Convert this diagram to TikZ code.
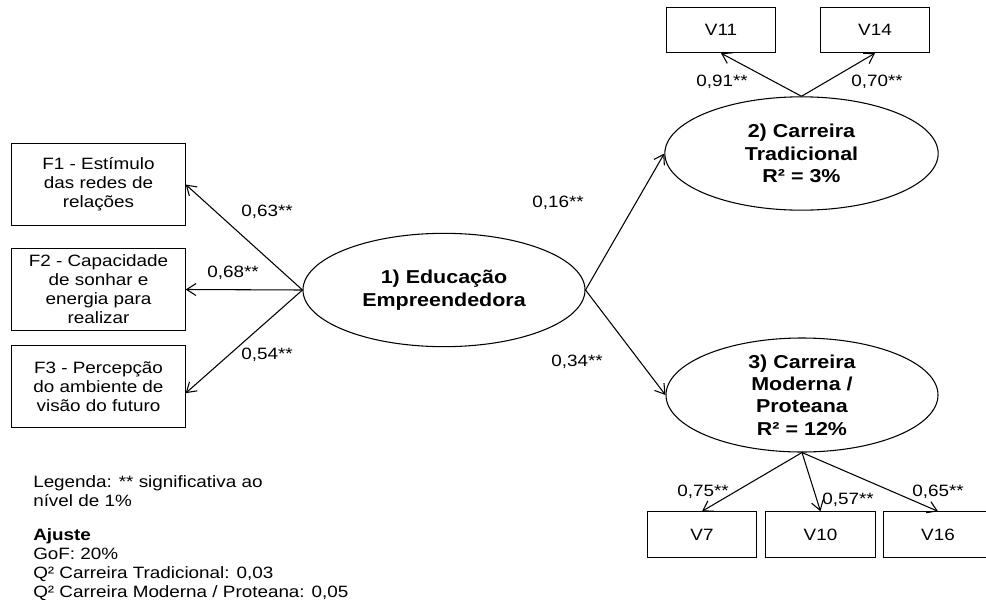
\documentclass[tikz,border=0pt]{standalone}
\usepackage{fontspec}
\setmainfont{Liberation Sans}[FakeStretch=1.15]
\usetikzlibrary{shapes.geometric,arrows.meta,positioning}

\newcommand{\plainfont}{\fontsize{12.3}{14.3}\selectfont}
\newcommand{\latfont}{\fontsize{14}{16.8}\selectfont\bfseries}

\begin{document}
\begin{tikzpicture}[
    x=0.75pt, y=-0.75pt,
    factor/.style={rectangle, draw=black, line width=0.8pt, minimum width=130pt, minimum height=62pt, inner sep=0pt, align=center, font=\plainfont},
    item/.style={rectangle, draw=black, line width=0.8pt, minimum width=82pt, minimum height=34pt, inner sep=0pt, font=\plainfont},
    latent/.style={ellipse, draw=black, line width=0.8pt, inner sep=0pt},
    lattext/.style={align=center, font=\latfont},
    coef/.style={font=\plainfont, inner sep=1pt},
    arrow/.style={-{Straight Barb[length=7pt,width=9pt]}, line width=0.8pt}
    ]
    \useasboundingbox (0,0) rectangle (986,600);

    % Latent constructs
    \node[latent, minimum width=211.5pt, minimum height=85pt] (edu) at (444,290) {};
    \node[lattext] (edutxt) at (edu) {1) Educação\\Empreendedora};
    \node[latent, minimum width=205pt, minimum height=85pt] (trad) at (801.5,153.5) {};
    \node[lattext] (tradtxt) at (trad) {2) Carreira\\Tradicional\\R² = 3\%};
    \node[latent, minimum width=204pt, minimum height=85.5pt] (mod) at (802,395) {};
    \node[lattext] (modtxt) at (mod) {3) Carreira\\Moderna /\\Proteana\\R² = 12\%};

    % Factors of education
    \node[factor] (f1) at (98.5,184.5) {F1 - Estímulo\\das redes de\\relações};
    \node[factor] (f2) at (98.5,289.5) {F2 - Capacidade\\de sonhar e\\energia para\\realizar};
    \node[factor, minimum height=61pt] (f3) at (98.5,386.5) {F3 - Percepção\\do ambiente de\\visão do futuro};

    % Indicators
    \node[item] (v11) at (721,30) {V11};
    \node[item] (v14) at (875,30) {V14};
    \node[item] (v7) at (702,534.5) {V7};
    \node[item] (v10) at (820.5,534.5) {V10};
    \node[item] (v16) at (938,534.5) {V16};

    % Loadings
    \draw[arrow] (edu.west) -- (f1.east);
    \draw[arrow] (edu.west) -- (f2.east);
    \draw[arrow] (edu.west) -- ([yshift=-5pt]f3.east);
    \draw[arrow] (trad.north) -- (v11.south);
    \draw[arrow] (trad.north) -- (v14.south);
    \draw[arrow] (mod.south) -- (v7.north);
    \draw[arrow] (mod.south) -- (v10.north);
    \draw[arrow] (mod.south) -- (v16.north);

    % Paths
    \draw[arrow] (edu.east) -- (trad.west);
    \draw[arrow] (edu.east) -- (mod.west);

    % Coefficients
    \node[coef] (c63) at (267,212) {0,63**};
    \node[coef] (c68) at (233,273) {0,68**};
    \node[coef] (c54) at (267,355) {0,54**};
    \node[coef] (c16) at (558,203) {0,16**};
    \node[coef] (c34) at (577,362) {0,34**};
    \node[coef] (c91) at (722,82) {0,91**};
    \node[coef] (c70) at (877,82) {0,70**};
    \node[coef] (c75) at (703,492) {0,75**};
    \node[coef] (c57) at (848,500) {0,57**};
    \node[coef] (c65) at (938,492) {0,65**};

    % Legend
    \node[font=\plainfont, align=left, anchor=north west, inner sep=0pt] (legenda) at (33,475) {Legenda: ** significativa ao\\nível de 1\%};
    \node[font=\plainfont, align=left, anchor=north west, inner sep=0pt] (ajuste) at (33,528) {\textbf{Ajuste}\\GoF: 20\%\\Q² Carreira Tradicional: 0,03\\Q² Carreira Moderna / Proteana: 0,05};

\end{tikzpicture}
\end{document}
